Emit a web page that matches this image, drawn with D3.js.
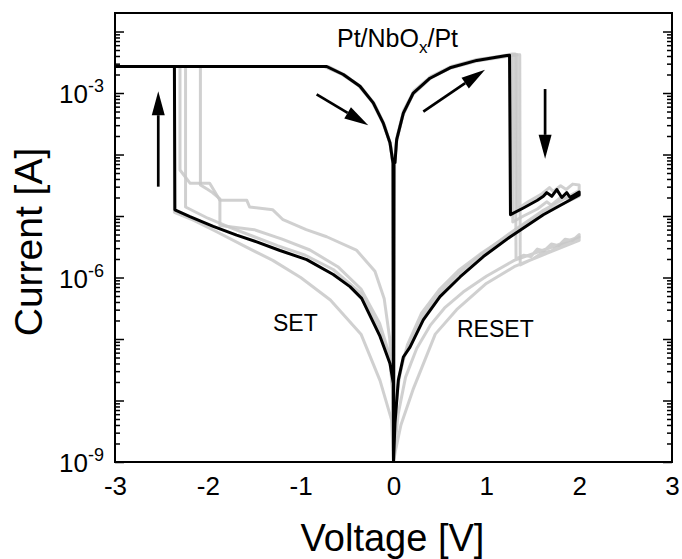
<!DOCTYPE html>
<html>
<head>
<meta charset="utf-8">
<script src="https://cdn.jsdelivr.net/npm/d3@7/dist/d3.min.js"></script>
<style>
  body { margin: 0; background: #fff; }
  svg text { font-family: "Liberation Sans", Arial, Helvetica, sans-serif; fill: #000; }
</style>
</head>
<body>
<div id="chart"></div>
<script>
// I-V switching cycles, Pt/NbOx/Pt (log |I| vs V)

// axis values
var xTicks = [-3, -2, -1, 0, 1, 2, 3];
var yDomain = [1e-9, 2e-2];
var yLabelTicks = [1e-9, 1e-6, 1e-3];

// black = highlighted cycle, [voltage, current]
var blackCycle = [
  [0, 1e-9], [0.005, 7.2e-5], [0.016, 7.4e-5], [0.034, 1.74e-4], [0.106, 4.7e-4], [0.213, 1.0e-3],
  [0.393, 1.74e-3], [0.609, 2.57e-3], [0.897, 3.39e-3], [1.22, 4.07e-3], [1.25, 4.1e-3],
  [1.26, 1.05e-5], [1.399, 1.35e-5], [1.55, 1.8e-5], [1.614, 2.09e-5], [1.651, 2.4e-5], [1.705, 2.09e-5],
  [1.759, 2.69e-5], [1.813, 2.0e-5], [1.866, 2.4e-5], [1.902, 2.0e-5], [2.0, 2.45e-5],
  [2.0, 2.2e-5], [1.614, 1.05e-5], [1.255, 4.57e-6], [0.968, 2.19e-6], [0.717, 1.02e-6], [0.501, 4.9e-7],
  [0.321, 2.04e-7], [0.178, 7.4e-8], [0.106, 5.1e-8], [0.052, 2.14e-8], [0.016, 4.27e-9], [0, 1e-9],
  [-0.002, 1.9e-8], [-0.038, 4.0e-8], [-0.145, 1.1e-7], [-0.343, 4.57e-7], [-0.469, 7.1e-7], [-0.649, 1.12e-6],
  [-0.935, 1.95e-6], [-1.223, 2.75e-6], [-1.474, 3.8e-6], [-1.69, 4.9e-6], [-1.942, 6.8e-6], [-2.193, 9.8e-6],
  [-2.355, 1.26e-5], [-2.36, 2.7e-3], [-3.0, 2.7e-3], [-0.72, 2.7e-3], [-0.541, 2.0e-3], [-0.361, 1.29e-3],
  [-0.218, 6.9e-4], [-0.11, 3.24e-4], [-0.038, 1.55e-4], [-0.005, 7.2e-5], [0, 1e-9]
];

// other cycles (grey)
var greyCycle1 = [
  [0, 1e-9], [0.008, 6.0e-5], [0.03, 1.6e-4], [0.1, 4.4e-4], [0.21, 9.5e-4], [0.4, 1.75e-3], [0.62, 2.6e-3],
  [0.9, 3.45e-3], [1.28, 4.3e-3], [1.31, 4.3e-3],
  [1.32, 2.0e-6], [1.4, 2.3e-6], [1.48, 2.2e-6], [1.55, 2.9e-6], [1.62, 2.7e-6], [1.7, 3.5e-6], [1.78, 3.3e-6],
  [1.85, 4.2e-6], [1.93, 4.0e-6], [2.0, 5.0e-6],
  [2.0, 4.6e-6], [1.7, 3.1e-6], [1.3, 1.9e-6], [1.0, 1.05e-6], [0.75, 5.8e-7], [0.55, 3.2e-7], [0.4, 1.7e-7],
  [0.25, 7.0e-8], [0.13, 2.4e-8], [0.05, 6e-9], [0.01, 1.5e-9], [0, 1e-9],
  [-0.01, 1.6e-8], [-0.04, 1.0e-7], [-0.1, 4.5e-7], [-0.2, 1.26e-6], [-0.4, 2.8e-6], [-0.72, 4.6e-6],
  [-0.94, 6.0e-6], [-1.19, 8.7e-6], [-1.3, 1.26e-5], [-1.55, 1.4e-5], [-1.58, 1.8e-5], [-1.87, 1.8e-5],
  [-1.98, 3.4e-5], [-2.19, 3.4e-5], [-2.3, 5.6e-5], [-2.3, 2.7e-3], [-3.0, 2.7e-3], [-0.75, 2.7e-3],
  [-0.56, 2.05e-3], [-0.38, 1.35e-3], [-0.23, 7.2e-4], [-0.12, 3.4e-4], [-0.04, 1.6e-4], [-0.005, 7e-5], [0, 1e-9]
];
var greyCycle2 = [
  [0, 1e-9], [0.01, 8e-5], [0.04, 2.0e-4], [0.11, 5.2e-4], [0.22, 1.08e-3], [0.4, 1.85e-3], [0.62, 2.7e-3],
  [0.9, 3.5e-3], [1.3, 4.2e-3], [1.33, 4.2e-3],
  [1.335, 1.3e-5], [1.45, 1.7e-5], [1.6, 2.3e-5], [1.68, 2.9e-5], [1.72, 2.5e-5], [1.8, 3.1e-5], [1.86, 2.7e-5],
  [1.93, 3.3e-5], [2.0, 3.2e-5],
  [2.0, 2.6e-5], [1.6, 1.2e-5], [1.25, 5.2e-6], [0.95, 2.4e-6], [0.7, 1.15e-6], [0.5, 5.6e-7], [0.32, 2.4e-7],
  [0.18, 9e-8], [0.1, 4.5e-8], [0.04, 1.5e-8], [0.01, 3e-9], [0, 1e-9],
  [-0.005, 1.2e-8], [-0.04, 5e-8], [-0.15, 1.4e-7], [-0.35, 5.5e-7], [-0.65, 1.35e-6], [-0.95, 2.3e-6],
  [-1.25, 3.3e-6], [-1.5, 4.6e-6], [-1.75, 6.4e-6], [-2.0, 9.2e-6], [-2.24, 1.4e-5],
  [-2.24, 2.7e-3], [-3.0, 2.7e-3], [-0.7, 2.7e-3], [-0.52, 1.95e-3], [-0.34, 1.2e-3], [-0.2, 6.3e-4],
  [-0.1, 3e-4], [-0.03, 1.4e-4], [-0.005, 6.5e-5], [0, 1e-9]
];
var greyCycle3 = [
  [0, 1e-9], [0.012, 6.8e-5], [0.035, 1.7e-4], [0.1, 4.3e-4], [0.21, 9.8e-4], [0.4, 1.78e-3], [0.6, 2.5e-3],
  [0.9, 3.3e-3], [1.26, 4.0e-3], [1.28, 4.0e-3],
  [1.285, 8e-6], [1.4, 1.0e-5], [1.55, 1.3e-5], [1.65, 1.7e-5], [1.7, 1.5e-5], [1.8, 2.0e-5], [1.9, 1.9e-5],
  [2.0, 2.3e-5],
  [2.0, 2.1e-5], [1.6, 1.1e-5], [1.25, 5.0e-6], [0.95, 2.5e-6], [0.7, 1.3e-6], [0.5, 6.5e-7], [0.3, 2.6e-7],
  [0.15, 8e-8], [0.06, 2.5e-8], [0.015, 5e-9], [0, 1e-9],
  [-0.005, 1.5e-8], [-0.05, 6e-8], [-0.15, 1.8e-7], [-0.35, 6.5e-7], [-0.6, 1.5e-6], [-0.9, 2.8e-6],
  [-1.2, 4.2e-6], [-1.5, 6.0e-6], [-1.87, 7.0e-6], [-1.87, 1.9e-5], [-1.95, 2.4e-5], [-2.0, 2.7e-5],
  [-2.08, 3.2e-5], [-2.08, 2.7e-3], [-3.0, 2.7e-3], [-0.74, 2.7e-3], [-0.55, 2.0e-3], [-0.37, 1.3e-3],
  [-0.22, 7.0e-4], [-0.11, 3.3e-4], [-0.035, 1.5e-4], [-0.005, 7e-5], [0, 1e-9]
];
var greyCycle4 = [
  [0, 1e-9], [0.01, 7e-5], [0.035, 1.8e-4], [0.11, 4.9e-4], [0.22, 1.03e-3], [0.4, 1.78e-3], [0.62, 2.62e-3],
  [0.9, 3.45e-3], [1.33, 4.2e-3], [1.36, 4.2e-3],
  [1.365, 1.6e-6], [1.5, 2.0e-6], [1.6, 2.5e-6], [1.7, 2.7e-6], [1.8, 3.4e-6], [1.9, 3.7e-6], [2.0, 4.5e-6],
  [2.0, 4.0e-6], [1.6, 2.3e-6], [1.3, 1.5e-6], [1.0, 8.0e-7], [0.68, 3.0e-7], [0.45, 1.2e-7], [0.21, 1.5e-8],
  [0.08, 4e-9], [0.02, 1.5e-9], [0, 1e-9],
  [-0.02, 4.8e-9], [-0.145, 2.1e-8], [-0.35, 1.2e-7], [-0.68, 4.3e-7], [-1.0, 1.0e-6], [-1.3, 1.9e-6],
  [-1.6, 3.2e-6], [-1.9, 5.5e-6], [-2.15, 8.5e-6], [-2.36, 1.15e-5],
  [-2.36, 2.7e-3], [-3.0, 2.7e-3], [-0.72, 2.7e-3], [-0.54, 2.0e-3], [-0.36, 1.3e-3], [-0.21, 6.8e-4],
  [-0.1, 3.1e-4], [-0.035, 1.5e-4], [-0.005, 7e-5], [0, 1e-9]
];
var greyCycles = [greyCycle1, greyCycle2, greyCycle3, greyCycle4];

// sweep direction arrows, [voltage, current] from -> to
var arrows = [
  { from: [-2.534, 3.0e-5], to: [-2.534, 1.07e-3] },
  { from: [-0.828, 9.5e-4], to: [-0.272, 3.0e-4] },
  { from: [0.321, 5.0e-4], to: [0.986, 2.4e-3] },
  { from: [1.633, 1.16e-3], to: [1.633, 8.5e-5] }
];

var margin = { top: 13, right: 10, bottom: 97, left: 115 };
var width = 682 - margin.left - margin.right;
var height = 559 - margin.top - margin.bottom;

var svg = d3.select("#chart")
  .append("svg")
  .attr("width", 682)
  .attr("height", 559)
  .append("g")
  .attr("transform", "translate(" + margin.left + "," + margin.top + ")");

var x = d3.scaleLinear().domain([-3, 3]).range([0, width]);
var y = d3.scaleLog().domain(yDomain).range([height, 0]);

svg.append("clipPath").attr("id", "plot-clip")
  .append("rect").attr("width", width).attr("height", height);

//Ticks: majors every decade, minors 2..9
var majorTicks = d3.range(-9, -1).map(function (e) { return Math.pow(10, e); });
var minorTicks = [];
majorTicks.forEach(function (d) {
  for (var m = 2; m <= 9; m++) {
    if (m * d < yDomain[1]) minorTicks.push(m * d);
  }
});

function tickAxis(axis, vals, len) {
  return axis.tickValues(vals).tickSize(-len).tickFormat("");
}
[[d3.axisLeft(y), 0], [d3.axisRight(y), width]].forEach(function (a) {
  [[majorTicks, 9], [minorTicks, 5]].forEach(function (t) {
    var g = svg.append("g")
      .attr("transform", "translate(" + a[1] + ",0)")
      .call(tickAxis(a[0], t[0], t[1]));
    g.select(".domain").remove();
    g.selectAll(".tick line").attr("stroke", "#000").attr("stroke-width", 1.5);
  });
});

//x tick labels (no tick marks)
var xAxis = svg.append("g")
  .attr("transform", "translate(0," + height + ")")
  .call(d3.axisBottom(x).tickValues(xTicks).tickSize(0).tickFormat(function (d) { return String(d); }));
xAxis.select(".domain").remove();
xAxis.attr("font-size", null).attr("font-family", null);
xAxis.selectAll("text")
  .attr("y", 33).attr("dy", 0)
  .style("font-size", "26px").attr("fill", "#000");

//y tick labels as 10^n
yLabelTicks.forEach(function (v) {
  var t = svg.append("text")
    .attr("x", -11)
    .attr("y", y(v) + 10)
    .attr("text-anchor", "end")
    .style("font-size", "26px");
  t.append("tspan").text("10");
  t.append("tspan")
    .attr("dy", -11)
    .style("font-size", "18px")
    .text(String(Math.round(Math.log10(v))));
});

//Curves
var line = d3.line()
  .x(function (d) { return x(d[0]); })
  .y(function (d) { return y(d[1]); });

var plot = svg.append("g").attr("clip-path", "url(#plot-clip)");

plot.selectAll(".grey-cycle")
  .data(greyCycles)
  .enter()
  .append("path")
  .attr("class", "grey-cycle")
  .attr("d", line)
  .attr("fill", "none")
  .attr("stroke", "#c8c8c8")
  .attr("stroke-opacity", 0.85)
  .attr("stroke-width", 3)
  .attr("stroke-linejoin", "round");

plot.append("path")
  .attr("d", line(blackCycle))
  .attr("fill", "none")
  .attr("stroke", "#000")
  .attr("stroke-width", 3)
  .attr("stroke-linejoin", "round");

//Frame
svg.append("rect")
  .attr("width", width)
  .attr("height", height)
  .attr("fill", "none")
  .attr("stroke", "#000")
  .attr("stroke-width", 2);

//Arrows
var headLen = 24, headHalf = 6.5;
arrows.forEach(function (a) {
  var x1 = x(a.from[0]), y1 = y(a.from[1]);
  var x2 = x(a.to[0]), y2 = y(a.to[1]);
  var ang = Math.atan2(y2 - y1, x2 - x1);
  var bx = x2 - headLen * Math.cos(ang), by = y2 - headLen * Math.sin(ang);
  svg.append("line")
    .attr("x1", x1).attr("y1", y1)
    .attr("x2", bx).attr("y2", by)
    .attr("stroke", "#000")
    .attr("stroke-width", 2.7);
  var px = -Math.sin(ang) * headHalf, py = Math.cos(ang) * headHalf;
  svg.append("polygon")
    .attr("points", [[x2, y2], [bx + px, by + py], [bx - px, by - py]].join(" "))
    .attr("fill", "#000");
});

//Labels
var title = svg.append("text")
  .attr("x", 337 - margin.left)
  .attr("y", 47 - margin.top)
  .style("font-size", "25px");
title.append("tspan").text("Pt/NbO");
title.append("tspan").attr("dy", 6).style("font-size", "17px").text("x");
title.append("tspan").attr("dy", -6).text("/Pt");

svg.append("text")
  .attr("x", 273 - margin.left)
  .attr("y", 331 - margin.top)
  .style("font-size", "23px")
  .text("SET");

svg.append("text")
  .attr("x", 457 - margin.left)
  .attr("y", 337 - margin.top)
  .style("font-size", "23px")
  .text("RESET");

svg.append("text")
  .attr("x", width / 2 - 1)
  .attr("y", height + 89)
  .attr("text-anchor", "middle")
  .style("font-size", "38px")
  .text("Voltage [V]");

svg.append("text")
  .attr("transform", "translate(" + (42 - margin.left) + "," + (242 - margin.top) + ") rotate(-90)")
  .attr("text-anchor", "middle")
  .style("font-size", "39px")
  .text("Current [A]");
</script>
</body>
</html>
